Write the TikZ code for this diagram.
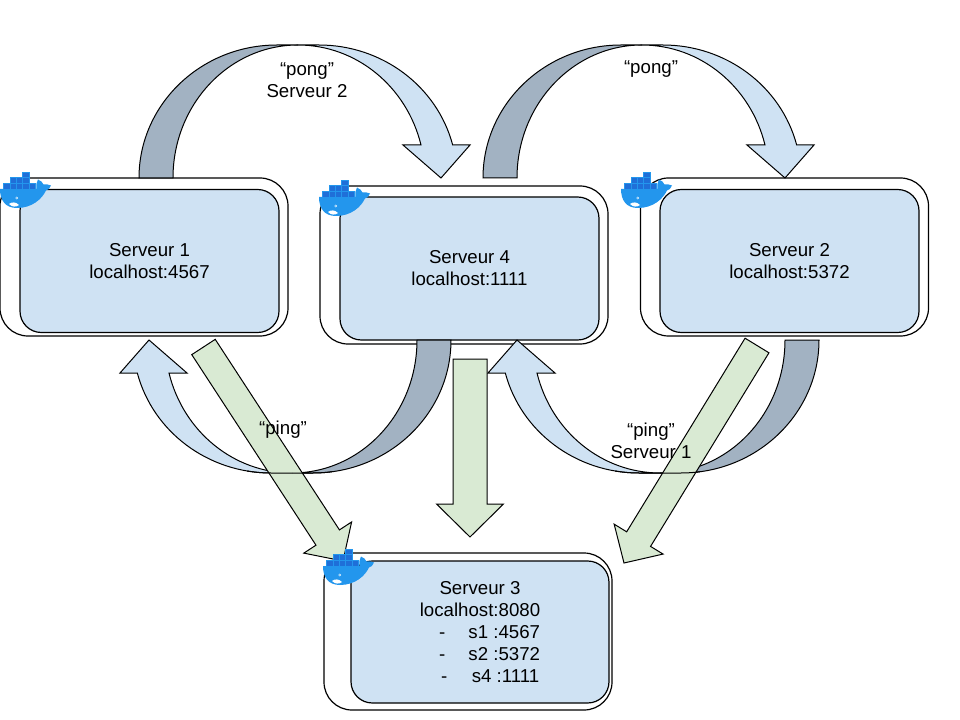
\documentclass[tikz,border=0pt]{standalone}
\usepackage{fontspec}
\setmainfont{Liberation Sans}
\usetikzlibrary{calc}
\definecolor{srvblue}{HTML}{CFE2F3}
\definecolor{pongdark}{HTML}{A2B2C2}
\definecolor{pinggreen}{HTML}{D9EAD3}
\definecolor{dockerblue}{HTML}{2396ED}
\definecolor{dockercell}{HTML}{1F6FD8}
\newcommand{\bentarrow}[2]{
	\begin{scope}[shift={(#1)},rotate=#2]
		\draw[bentpath,fill=pongdark] (-159,133) arc[start angle=180,end angle=270,x radius=138,y radius=133] -- (0,0) arc[start angle=270,end angle=180,x radius=125,y radius=133] -- cycle;
		\draw[bentpath,fill=srvblue] (0,0) -- (21,0) arc[start angle=270,end angle=345.63,x radius=138,y radius=133] -- (172,100) -- (143,133) -- (105,100) -- (123,100) arc[start angle=345.63,end angle=270,x radius=127,y radius=133] -- cycle;
	\end{scope}
}
\newcommand{\bentline}[2]{
	\begin{scope}[shift={(#1)},rotate=#2]
		\draw[bentpath] (0,0) -- (21,0) arc[start angle=270,end angle=280,x radius=138,y radius=133];
		\draw[bentpath] (0,0) -- (-21,0) arc[start angle=270,end angle=262,x radius=138,y radius=133];
	\end{scope}
}
\newcommand{\pingarrow}[5]{
	\coordinate (headbase) at ($(#2)!#5!(#1)$);
	\draw[bentpath,fill=pinggreen] ($(#1)!#3!90:(#2)$) -- ($(headbase)!#3!90:(#2)$) -- ($(headbase)!#4!90:(#2)$) -- (#2) -- ($(headbase)!#4!-90:(#2)$) -- ($(headbase)!#3!-90:(#2)$) -- ($(#1)!#3!-90:(#2)$) -- cycle;
}
\begin{document}
\begin{tikzpicture}[
	x=0.75pt,y=-0.75pt,
	font=\fontsize{14}{16.5}\selectfont,
	outerbox/.style={rectangle, draw=black, line width=0.9pt, rounded corners=21pt, minimum width=216pt, minimum height=118.5pt, inner sep=0pt},
	innerbox/.style={rectangle, draw=black, line width=0.9pt, fill=srvblue, rounded corners=16pt, minimum width=194.25pt, minimum height=107.25pt, inner sep=0pt, align=center},
	twolines/.style={execute at begin node={\rule{0pt}{12.6pt}}},
	bentpath/.style={draw=black, line width=0.75pt, line join=miter},
	msglabel/.style={align=center, inner sep=0pt},
	whale/.pic={
		\fill[dockerblue] (0,17) -- (36.5,17) .. controls (36,13) and (36.5,10) .. (38,7.5) .. controls (41,8.5) and (42.5,10.5) .. (43.5,12.5) .. controls (46,12) and (49,12.5) .. (51,13.5) .. controls (50,16.5) and (48,18) .. (46,18.5) .. controls (42,27) and (32,36) .. (17,36) .. controls (5,36) and (0,28) .. (0,17) -- cycle;
		\fill[white] (9,32) .. controls (12,29.5) and (16,30) .. (19,33) .. controls (16,35.5) and (12,35) .. (9,32) -- cycle;
		\fill[white] (16.7,26) circle (1.4);
		\fill[dockerblue] (16.7,26) circle (0.6);
		\foreach \cellx in {3.3,9.7,16.1,22.5,28.9}
			\draw[fill=dockercell,draw=dockerblue,line width=0.3pt] (\cellx,11) rectangle ++(6.4,6);
		\foreach \cellx in {9.7,16.1,22.5}
			\draw[fill=dockercell,draw=dockerblue,line width=0.3pt] (\cellx,5.3) rectangle ++(6.4,5.7);
		\draw[fill=dockercell,draw=dockerblue,line width=0.3pt] (22.5,0) rectangle ++(6.4,5.3);
	},
	]

	\useasboundingbox (0,0) rectangle (960,720);

	\node[outerbox] (outerone) at (144,257) {};
	\node[innerbox,twolines] (srvone) at (149.5,261) {Serveur 1\\localhost:4567};
	\node[outerbox] (outerfour) at (464,265) {};
	\node[innerbox,twolines] (srvfour) at (469.5,268.5) {Serveur 4\\localhost:1111};
	\node[outerbox] (outertwo) at (784.5,257) {};
	\node[innerbox,twolines] (srvtwo) at (789.5,261) {Serveur 2\\localhost:5372};
	\node[outerbox, minimum height=117.75pt] (outerthree) at (468,631.5) {};
	\node[innerbox, minimum width=193.5pt, minimum height=106.5pt] (srvthree) at (480,632) {Serveur 3\\localhost:8080\\\makebox[63pt][l]{\hspace{0.8pt}-\hspace{17.4pt}s1 :4567}\\\makebox[63pt][l]{\hspace{0.8pt}-\hspace{17.4pt}s2 :5372}\\\makebox[60pt][l]{\hspace{0.8pt}-\hspace{18.4pt}s4 :1111}};

	\coordinate (apexone) at (298,45);
	\coordinate (apextwo) at (642,45);
	\coordinate (apexthree) at (292,473);
	\coordinate (apexfour) at (660,473);
	\bentarrow{apexone}{0}
	\bentarrow{apextwo}{0}
	\bentarrow{apexthree}{180}
	\bentarrow{apexfour}{180}

	\coordinate (pingleft) at (203.5,347);
	\coordinate (tipleft) at (343,561);
	\coordinate (pingmid) at (470,359);
	\coordinate (tipmid) at (470,537);
	\coordinate (pingright) at (757,345.5);
	\coordinate (tipright) at (624,563);
	\pingarrow{pingleft}{tipleft}{10.5pt}{21.4pt}{21pt}
	\pingarrow{pingmid}{tipmid}{12.75pt}{25.1pt}{24.75pt}
	\pingarrow{pingright}{tipright}{10.5pt}{21.5pt}{21pt}
	\bentline{apexthree}{180}
	\bentline{apexfour}{180}

	\pic (whaleone) at (0,172) {whale};
	\pic (whalefour) at (319,180) {whale};
	\pic (whaletwo) at (621,172) {whale};
	\pic (whalethree) at (323,549) {whale};

	\node[msglabel] (pongone) at (307,80.5) {“pong”\\Serveur 2};
	\node[msglabel] (pongtwo) at (651,69) {“pong”};
	\node[msglabel] (pingone) at (283,430) {“ping”};
	\node[msglabel] (pingtwo) at (651,441) {“ping”\\Serveur 1};

\end{tikzpicture}
\end{document}
